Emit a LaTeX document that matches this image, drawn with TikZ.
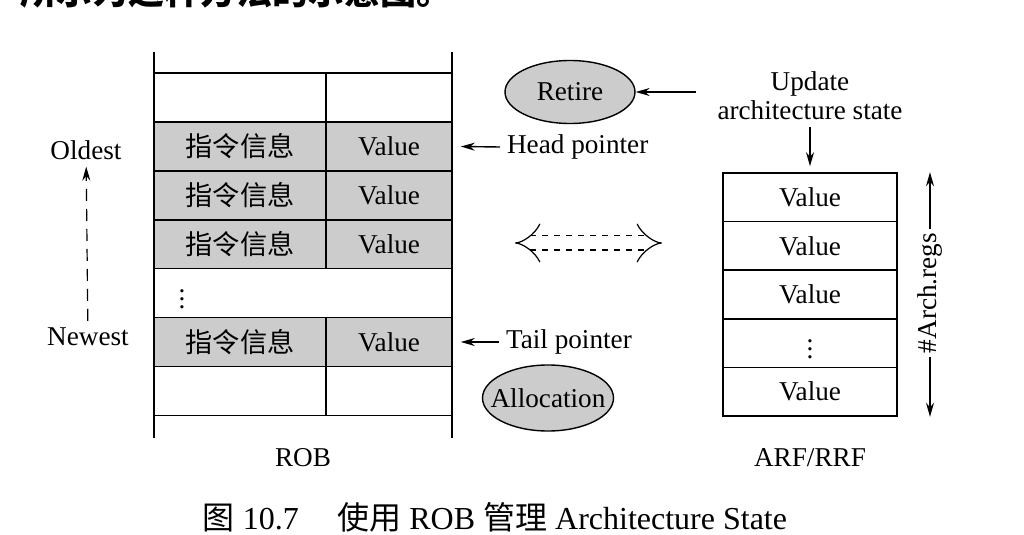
\documentclass[tikz,border=0pt]{standalone}
\usepackage{fontspec}
\setmainfont{Liberation Serif}
\newfontfamily\cjk{Noto Sans CJK SC}
\usetikzlibrary{arrows.meta, shapes.geometric, positioning}

\begin{document}
\begin{tikzpicture}[x=0.5pt, y=-0.5pt,
    font=\fontsize{13.6}{14.5}\selectfont,
    cell/.style={draw, line width=0.8pt, minimum height=24.45pt, inner sep=0pt},
    lcell/.style={cell, minimum width=86pt},
    rcell/.style={cell, minimum width=63pt},
    busy/.style={fill=black!20},
    reg/.style={cell, minimum width=87pt, minimum height=24.3pt},
    ptr/.style={-{Stealth[length=7pt,width=4pt]}, line width=0.7pt},
    stage/.style={ellipse, draw, line width=0.7pt, fill=black!20, inner sep=0pt}]

\useasboundingbox (0,0) rectangle (1024,535);
\clip (0,0) rectangle (1024,535);

\node[anchor=west, font=\fontsize{18}{20}\selectfont\cjk\bfseries] (lead) at (13,-9) {所示为这种方法的示意图。};

% ROB
\draw[line width=0.6pt] (154,52) -- (154,438);
\draw[line width=0.6pt] (452,52) -- (452,438);

\node[lcell] (r0l) at (240,97.5) {};
\node[rcell] (r0r) at (389,97.5) {};
\node[lcell, busy] (r1l) at (240,146.4) {\cjk 指令信息};
\node[rcell, busy] (r1r) at (389,146.4) {Value};
\node[lcell, busy] (r2l) at (240,195.3) {\cjk 指令信息};
\node[rcell, busy] (r2r) at (389,195.3) {Value};
\node[lcell, busy] (r3l) at (240,244.2) {\cjk 指令信息};
\node[rcell, busy] (r3r) at (389,244.2) {Value};
\node (dots) at (182,293.1) {$\vdots$};
\node[lcell, busy] (r5l) at (240,342) {\cjk 指令信息};
\node[rcell, busy] (r5r) at (389,342) {Value};
\node[lcell] (r6l) at (240,390.9) {};
\node[rcell] (r6r) at (389,390.9) {};

\node (rob) at (303,458) {ROB};

\node (oldest) at (86,150) {Oldest};
\node (newest) at (88,337) {Newest};
\draw[ptr, line width=0.6pt, dash pattern=on 6pt off 4pt] (newest) -- (oldest);

% pointers and stages
\node[anchor=west] (head) at (500,147) {Head pointer};
\node[anchor=west] (tail) at (499,342) {Tail pointer};
\draw[ptr, shorten >=4pt] (head.west) -- (r1r.east);
\draw[ptr, shorten >=4pt] (tail.west) -- (r5r.east);

\node[stage, minimum width=65pt, minimum height=31.5pt] (retire) at (570,92) {Retire};
\node[stage, inner xsep=-10pt, minimum width=65.5pt, minimum height=33pt] (alloc) at (548,398) {Allocation};

\coordinate (swapl) at (515,243);
\coordinate (swapr) at (662,243);
\draw[dashed, double, double distance=6.5pt, line width=0.6pt, {Implies[length=7pt]}-{Implies[length=7pt]}] (swapl) -- (swapr);

% ARF/RRF
\node[align=center] (update) at (810,96) {Update\\architecture state};
\draw[ptr, shorten <=7pt] (update.west |- retire) -- (retire);

\node[reg] (a0) at (810,197.3) {Value};
\node[reg] (a1) at (810,245.9) {Value};
\node[reg] (a2) at (810,294.5) {Value};
\node[reg] (a3) at (810,343.1) {$\vdots$};
\node[reg] (a4) at (810,391.7) {Value};
\draw[ptr, shorten >=3pt] (update) -- (a0);

\node[rotate=90, fill=white, inner sep=2pt] (regs) at (930,293) {\#Arch.regs};
\draw[ptr] (regs) -- (regs |- a0.north);
\draw[ptr] (regs) -- (regs |- a4.south);

\node (arf) at (810,458) {ARF/RRF};

\node (caption) at (495,517) {\fontsize{16}{18}\selectfont{\cjk 图}~10.7\hspace{1.2em}{\cjk 使用}~ROB~{\cjk 管理}~Architecture State};

\end{tikzpicture}
\end{document}
